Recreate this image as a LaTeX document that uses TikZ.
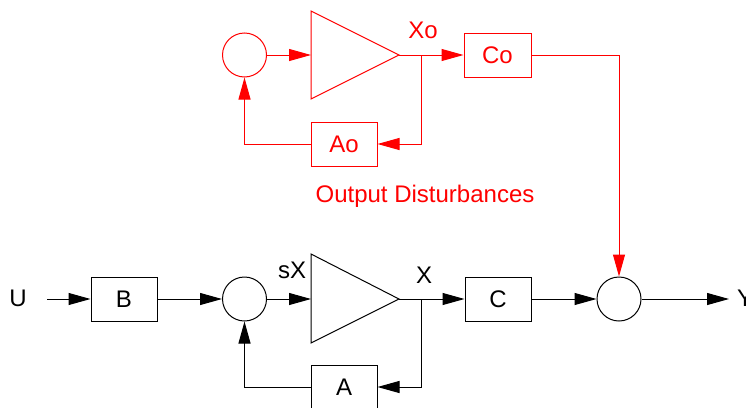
\documentclass[tikz,border=0pt]{standalone}
\usepackage{fontspec}
\setmainfont{Liberation Sans}
\usetikzlibrary{arrows.meta}
\begin{document}
\begin{tikzpicture}[x=1pt,y=-1pt,
  every node/.style={font=\fontsize{24}{28}\selectfont},
  blk/.style={draw,line width=1pt,minimum width=66pt,minimum height=44pt,inner sep=0pt},
  sumc/.style={draw,circle,line width=1pt,minimum size=44pt,inner sep=0pt},
  con/.style={line width=1pt},
  arr/.style={con,-{Triangle[length=22pt,width=12pt]}},
  lbl/.style={inner sep=0pt}]
\useasboundingbox (0,0) rectangle (746,407);
% ---- red disturbance loop ----
\begin{scope}[red]
\node[sumc] (s1) at (244.5,55) {};
\draw[line width=1pt] (311,11) -- (311,99) -- (399,55) -- cycle;
\coordinate (a1in) at (311,55);
\coordinate (a1out) at (399,55);
\coordinate (b1) at (421,55);
\node[lbl,red] (xo) at (423,30) {Xo};
\node[blk,red,minimum width=67pt] (Co) at (497.5,55) {Co};
\node[blk,red] (Ao) at (344,144) {Ao};
\node[lbl,red,anchor=base] (od) at (425,202) {Output Disturbances};
\draw[arr] (s1) -- (a1in);
\draw[arr] (a1out) -- (Co);
\draw[arr] (b1) |- (Ao.east);
\draw[arr] (Ao.west) -| (s1.south);
\end{scope}
% ---- main loop ----
\node[lbl] (U) at (18,298) {U};
\coordinate (uin) at (47,299);
\node[blk] (B) at (124,299) {B};
\node[sumc] (s2) at (244.5,299) {};
\draw[line width=1pt] (311,254) -- (311,343) -- (399,299) -- cycle;
\coordinate (a2in) at (311,299);
\coordinate (a2out) at (399,299);
\coordinate (b2) at (421,299);
\node[lbl] (sX) at (292,270) {sX};
\node[lbl] (X) at (424,275) {X};
\node[blk] (A) at (344,387) {A};
\node[blk] (C) at (498,299) {C};
\node[sumc] (s3) at (619,299) {};
\coordinate (yout) at (729,299);
\node[lbl,anchor=west] (Y) at (737,298) {Y};
\draw[arr] (uin) -- (B);
\draw[arr] (B) -- (s2);
\draw[arr] (s2) -- (a2in);
\draw[con] (a2out) -- (b2);
\draw[arr] (b2) -- (C);
\draw[arr] (b2) |- (A.east);
\draw[arr] (A.west) -| (s2.south);
\draw[arr] (C) -- (s3);
\draw[arr] (s3) -- (yout);
\draw[arr,red] (Co.east) -| (s3.north);
\end{tikzpicture}
\end{document}
